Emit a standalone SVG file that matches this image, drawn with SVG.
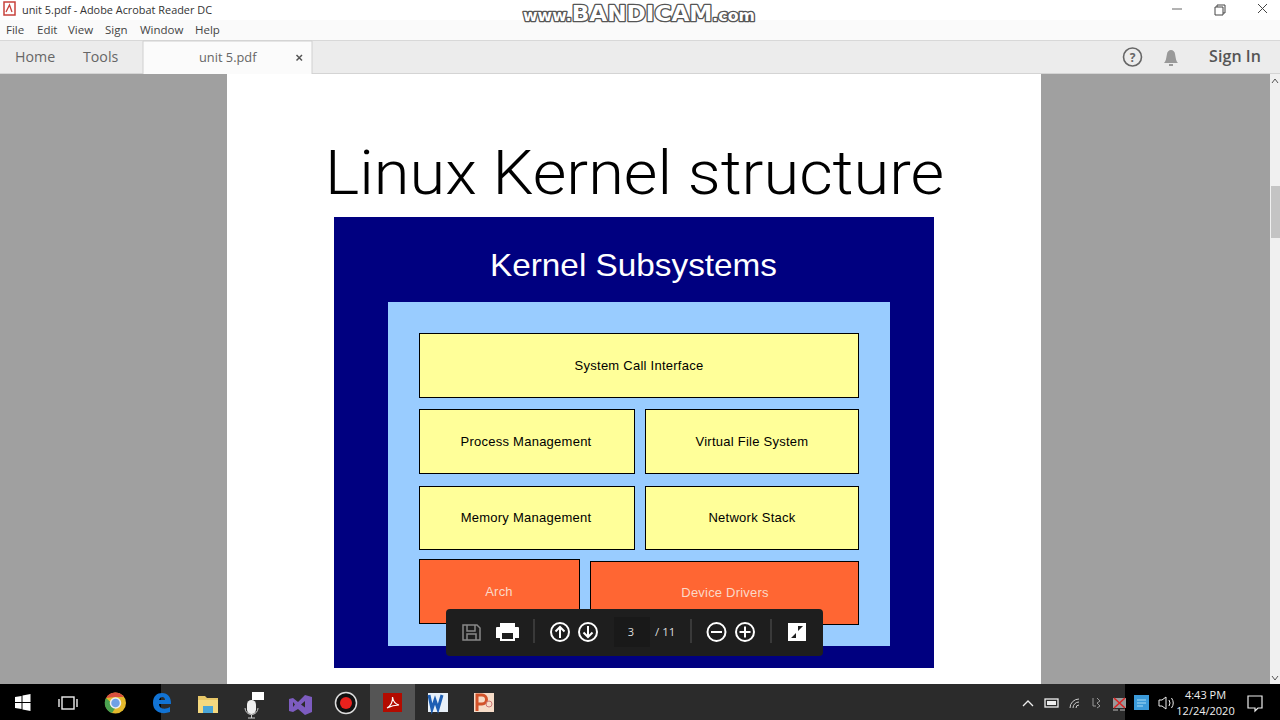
<svg xmlns="http://www.w3.org/2000/svg" width="1280" height="720" viewBox="0 0 1280 720">
<style>
text{font-family:"Liberation Sans",Arial,sans-serif}
.ui{font-family:"Open Sans","Noto Sans",sans-serif}
.menu{font-size:11.5px;fill:#444}
.tab{font-size:14.2px;fill:#666}
.y{fill:#ffff99;stroke:#000;stroke-width:1}
.o{fill:#ff6633;stroke:#000;stroke-width:1}
.lb{font-size:13px;fill:#000;text-anchor:middle;letter-spacing:.25px}
.lw{font-size:13px;fill:#fbd9c8;text-anchor:middle;letter-spacing:.2px}
.ic{fill:none;stroke:#fff;stroke-width:2}
.tb{fill:none;stroke:#eee;stroke-width:1.4}
.wm{font-family:"DejaVu Sans",sans-serif;font-weight:700;fill:#fff;stroke:#555;stroke-width:2.6px;paint-order:stroke;stroke-linejoin:round}
</style>
<rect width="1280" height="720" fill="#a0a0a0"/>
<g id="titlebar">
<rect width="1280" height="20" fill="#fff"/>
<rect y="20" width="1280" height="20" fill="#fafafa"/>
<rect x="4" y="2" width="11" height="13" fill="#fff" stroke="#c8413b" stroke-width="1.500"/>
<path d="M6 12 L9.500 5 L12 12" fill="none" stroke="#c8413b" stroke-width="1.300"/>
<text class="ui" x="22" y="14" font-size="10.900" fill="#333">unit 5.pdf - Adobe Acrobat Reader DC</text>
<text class="ui menu" x="6" y="34">File</text>
<text class="ui menu" x="37" y="34">Edit</text>
<text class="ui menu" x="68" y="34">View</text>
<text class="ui menu" x="105" y="34">Sign</text>
<text class="ui menu" x="140" y="34">Window</text>
<text class="ui menu" x="195" y="34">Help</text>
<path d="M1172 9H1182" stroke="#666" stroke-width="1"/>
<path d="M1215 7h8v8h-8z M1217 7v-2h8v8h-2" fill="none" stroke="#444" stroke-width="1"/>
<path d="M1258 4L1267 13M1267 4L1258 13" stroke="#444" stroke-width="1"/>
</g>
<g id="toolbar">
<rect y="40" width="1280" height="34" fill="#ececec"/>
<rect y="40" width="1280" height="1" fill="#d8d8d8"/>
<rect y="73" width="1280" height="1" fill="#d4d4d4"/>
<rect x="143" y="41" width="169" height="33" fill="#fbfbfb"/>
<path d="M143 74V41H312V74" fill="none" stroke="#d0d0d0"/>
<text class="ui tab" x="15" y="62">Home</text>
<text class="ui tab" x="83" y="62">Tools</text>
<text class="ui" x="199" y="62" font-size="12.800" fill="#666">unit 5.pdf</text>
<path d="M296.500 55L302 60.500M302 55L296.500 60.500" stroke="#555" stroke-width="1.500"/>
<circle cx="1132.500" cy="57" r="9" fill="none" stroke="#666" stroke-width="1.600"/>
<text class="ui" x="1132.500" y="61.500" font-size="12" font-weight="700" fill="#666" text-anchor="middle">?</text>
<path d="M1164 63c2-2 2-4 3-9c0-2 2-4 4-4s4 2 4 4c1 5 1 7 3 9z" fill="#999"/>
<rect x="1169" y="64" width="4" height="2" fill="#999"/>
<text class="ui" x="1209" y="62" font-size="16" font-weight="600" fill="#555" textLength="52">Sign In</text>
</g>
<g id="page">
<rect x="227" y="74" width="814" height="610" fill="#fff"/>
<text x="325" y="193.500" font-size="62" fill="#000" textLength="619" lengthAdjust="spacingAndGlyphs" style="font-family:Roboto,'Liberation Sans',sans-serif;font-weight:300">Linux Kernel structure</text>
<rect x="334" y="217" width="600" height="451" fill="#000080"/>
<text x="490" y="275.500" font-size="32" fill="#fff" textLength="287" lengthAdjust="spacingAndGlyphs">Kernel Subsystems</text>
<rect x="388" y="302" width="502" height="344" fill="#99ccff"/>
</g>
<g id="node-syscall"><rect class="y" x="419.500" y="333.500" width="439" height="64"/><text class="lb" x="639" y="370">System Call Interface</text></g>
<g id="node-process"><rect class="y" x="419.500" y="409.500" width="215" height="64"/><text class="lb" x="526" y="446">Process Management</text></g>
<g id="node-vfs"><rect class="y" x="645.500" y="409.500" width="213" height="64"/><text class="lb" x="752" y="446">Virtual File System</text></g>
<g id="node-memory"><rect class="y" x="419.500" y="486.500" width="215" height="63"/><text class="lb" x="526" y="522">Memory Management</text></g>
<g id="node-network"><rect class="y" x="645.500" y="486.500" width="213" height="63"/><text class="lb" x="752" y="522">Network Stack</text></g>
<g id="node-arch"><rect class="o" x="419.500" y="559.500" width="160" height="64"/><text class="lw" x="499" y="595.500">Arch</text></g>
<g id="node-drivers"><rect class="o" x="590.500" y="561.500" width="268" height="63"/><text class="lw" x="725" y="597">Device Drivers</text></g>
<g id="connectors"></g>
<g id="scrollbar">
<rect x="1270" y="74" width="10" height="610" fill="#f0f0f0"/>
<rect x="1271" y="186" width="9" height="52" fill="#c4c4c4"/>
<path d="M1272 83l3-4l3 4M1272 676l3 4l3-4" fill="none" stroke="#555"/>
</g>
<g id="pdf-controls">
<rect x="446" y="609" width="377" height="47" rx="4" fill="#1e1e1e"/>
<path d="M463 625h14l3 3v12h-17zM467 625v6h8v-6M467 640v-6h9v6" fill="none" stroke="#888" stroke-width="1.500"/>
<path d="M497 627h3v-4h15v4h3q1 0 1 1v10h-4v3h-15v-3h-4v-10q0-1 1-1z" fill="#fff"/>
<rect x="502" y="633" width="11" height="6" fill="#1e1e1e"/>
<path d="M534 619v24M691 619v24M771 619v24" stroke="#555" stroke-width="1"/>
<circle class="ic" cx="560" cy="632" r="9"/><path class="ic" d="M560 638v-11M555.500 631.500l4.500-4.500l4.500 4.500"/>
<circle class="ic" cx="588" cy="632" r="9"/><path class="ic" d="M588 626v11M583.500 632.500l4.500 4.500l4.500-4.500"/>
<rect x="614" y="617" width="36" height="30" fill="#191919"/>
<text class="ui" x="631" y="636" font-size="11" fill="#ddd" text-anchor="middle">3</text>
<text class="ui" x="655" y="636" font-size="11.500" fill="#ddd">/ 11</text>
<circle class="ic" cx="716.500" cy="632" r="9"/><path class="ic" d="M711 632h11"/>
<circle class="ic" cx="745" cy="632" r="9"/><path class="ic" d="M739.500 632h11M745 626.500v11"/>
<rect x="788" y="623" width="18" height="18" fill="#fff"/>
<path d="M790 639l6-6v5h-5M804 625l-6 6v-5h5" fill="#1e1e1e"/>
</g>
<g id="taskbar">
<rect y="684" width="1280" height="36" fill="#2b2b2b"/>
<rect y="684" width="161" height="36" fill="#000"/>
<rect x="1125" y="684" width="155" height="36" fill="#000"/>
<rect x="370" y="684" width="45" height="36" fill="#555"/>
<path d="M15 697l6.500-1v6h-6.500zM22.500 695.500l8-1.500v8h-8zM15 703h6.500v6l-6.500-1zM22.500 703h8v8l-8-1.500z" fill="#fff"/>
<rect x="62" y="697" width="12" height="12" class="tb"/><path class="tb" d="M59 699v8M77 699v8"/>
<circle cx="115.500" cy="703" r="10.500" fill="#e4b92c"/>
<path d="M106 698a10.500 10.500 0 0 1 18-1h-9z" fill="#d9503f"/>
<path d="M106 698a10.500 10.500 0 0 0 6 15l4-6z" fill="#4aa14f"/>
<circle cx="115.500" cy="703" r="5" fill="#6ea0e6" stroke="#eee" stroke-width="1.500"/>
<path d="M153 703c0-7 4-10 9-10c6 0 9 4 9 11h-12c0 5 6 6 11 3v5c-8 3-17 0-17-9zM159 700h6c0-4-5-4-6 0z" fill="#1173d4" fill-rule="evenodd"/>
<path d="M198 696h7l2 2h11v6h-20z" fill="#e6c668"/><path d="M198 700h20v13h-20z" fill="#f5d97f"/><rect x="203" y="706" width="10" height="7" fill="#4aa6d8"/>
<rect x="247" y="700" width="9" height="14" rx="4.500" fill="#eee"/>
<rect x="252" y="692" width="12" height="8" fill="#fff"/><path d="M245 708a6.500 6.500 0 0 0 13 0M251.500 715v3M248 718h7" stroke="#ccc" fill="none"/>
<path d="M289 699l4-1l5 4l7-7l7 2v15l-7 3l-7-6l-5 3l-4-1zM293 702v5l2-2.500zM305 701l-4 3.500l4 3z" fill="#7d5cc0" fill-rule="evenodd"/>
<circle cx="346" cy="703" r="10.500" fill="#111" stroke="#ddd" stroke-width="1.500"/><circle cx="346" cy="703" r="6" fill="#e8211d"/>
<rect x="383" y="693" width="19" height="19" fill="#b30b00"/>
<path d="M387 708c4-2 6-7 5.500-11c.5 4 3 7 6.500 8c-4 0-8 1-12 3z" fill="none" stroke="#fff" stroke-width="1.200"/>
<rect x="428" y="693" width="20" height="19" fill="#e8f0f8"/><path d="M429 695l3 14l3-9l3 9l4-14" fill="none" stroke="#1e5fb4" stroke-width="3"/>
<rect x="474" y="693" width="20" height="19" fill="#f6dcc8"/><path d="M477 711v-16h5a4.500 4.500 0 0 1 0 9h-5" fill="none" stroke="#d2532a" stroke-width="3"/><circle cx="489" cy="704" r="3" fill="none" stroke="#c77"/>
<path d="M1023 706l5-5l5 5" fill="none" stroke="#eee" stroke-width="1.300"/>
<rect x="1045" y="699" width="13" height="8" fill="none" stroke="#eee" stroke-width="1.300"/><rect x="1047" y="701" width="9" height="4" fill="#eee"/>
<path d="M1070 708a9 9 0 0 1 9-9M1073 708a6 6 0 0 1 6-6M1076 708a3 3 0 0 1 3-3" fill="none" stroke="#ccc"/>
<path d="M1093 698v8h3M1097 698l3 3l-3 2l3 3l-3 2" fill="none" stroke="#999"/>
<rect x="1113" y="698" width="13" height="10" fill="#999"/><path d="M1114 698l11 10M1125 698l-11 10" stroke="#d22" stroke-width="1.500"/><path d="M1113 710h5M1120 710h5" stroke="#bbb"/>
<rect x="1134" y="695" width="15" height="15" fill="#3b9ad9"/><path d="M1137 700h9M1137 703h9M1137 706h6" stroke="#a8dcf5"/>
<path d="M1159 700h3l4-3v12l-4-3h-3zM1169 700q2 3 0 6M1171.500 698q3.500 5 0 10" fill="none" stroke="#eee"/>
<text class="ui" x="1205.500" y="699" font-size="11" fill="#eee" text-anchor="middle">4:43 PM</text>
<text class="ui" x="1205.500" y="715" font-size="11" fill="#eee" text-anchor="middle">12/24/2020</text>
<path d="M1248 696h14v12h-4l-3 3v-3h-7z" fill="none" stroke="#eee" stroke-width="1.200"/>
</g>
<g id="watermark">
<text class="wm" x="523" y="21" font-size="22" textLength="232" lengthAdjust="spacingAndGlyphs"><tspan font-size="15">www.</tspan>BANDICAM<tspan font-size="15">.com</tspan></text>
</g>
</svg>
